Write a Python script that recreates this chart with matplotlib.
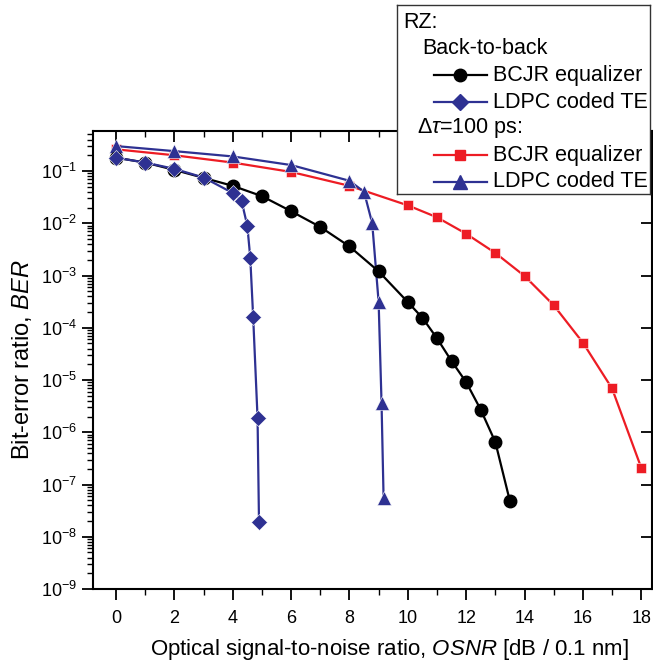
import matplotlib
matplotlib.use("Agg")
import matplotlib.pyplot as plt
from matplotlib.ticker import LogLocator, NullFormatter, MultipleLocator
from matplotlib.lines import Line2D

plt.rcParams['font.family'] = ['Liberation Sans', 'DejaVu Sans']
plt.rcParams['mathtext.fontset'] = 'custom'
plt.rcParams['mathtext.rm'] = 'Liberation Sans'
plt.rcParams['mathtext.it'] = 'Liberation Sans:italic'

# back-to-back, BCJR equalizer
b2b_bcjr_x = [0, 1, 2, 3, 4, 5, 6, 7, 8, 9, 10, 10.5, 11, 11.5, 12, 12.5, 13, 13.5]
b2b_bcjr_y = [0.18, 0.145, 0.105, 0.074, 0.052, 0.033, 0.017, 0.0085, 0.0036, 0.0012,
              3.1e-4, 1.55e-4, 6.3e-5, 2.3e-5, 9.1e-6, 2.7e-6, 6.5e-7, 4.8e-8]
# back-to-back, LDPC coded TE
b2b_ldpc_x = [0, 1, 2, 3, 4.0, 4.3, 4.5, 4.6, 4.7, 4.85, 4.9]
b2b_ldpc_y = [0.18, 0.145, 0.11, 0.075, 0.038, 0.027, 0.0089, 0.0022, 1.6e-4, 1.9e-6, 1.9e-8]
# dtau = 100 ps, BCJR equalizer
dgd_bcjr_x = [0, 2, 4, 6, 8, 10, 11, 12, 13, 14, 15, 16, 17, 18]
dgd_bcjr_y = [0.26, 0.20, 0.145, 0.096, 0.052, 0.022, 0.013, 0.0063, 0.0027, 9.8e-4,
              2.7e-4, 5.2e-5, 6.9e-6, 2.1e-7]
# dtau = 100 ps, LDPC coded TE
dgd_ldpc_x = [0, 2, 4, 6, 8, 8.5, 8.78, 9.0, 9.1, 9.17]
dgd_ldpc_y = [0.30, 0.24, 0.19, 0.13, 0.065, 0.040, 0.010, 3.1e-4, 3.6e-6, 5.5e-8]

BLACK = '#000000'
BLUE = '#2E3192'
RED = '#ED1C24'

W, H = 653, 667
fig = plt.figure(figsize=(W / 100, H / 100), dpi=100)
ax = fig.add_axes([93 / W, 1 - 589 / H, (652 - 93) / W, (589 - 131) / H])

ax.plot(dgd_bcjr_x, dgd_bcjr_y, '-s', color=RED, lw=1.6, ms=7, mec='white', mew=0.4, zorder=3)
ax.plot(dgd_ldpc_x, dgd_ldpc_y, '-^', color=BLUE, lw=1.6, ms=9.5, mec='white', mew=0.4, zorder=4)
ax.plot(b2b_bcjr_x, b2b_bcjr_y, '-o', color=BLACK, lw=1.6, ms=9, zorder=5)
ax.plot(b2b_ldpc_x, b2b_ldpc_y, '-D', color=BLUE, lw=1.6, ms=8.5, mec='white', mew=0.4, zorder=6)

ax.set_yscale('log')
ax.set_xlim(-0.79, 18.37)
ax.set_ylim(1e-9, 0.583)

ax.xaxis.set_major_locator(MultipleLocator(2))
ax.xaxis.set_minor_locator(MultipleLocator(1))
ax.yaxis.set_major_locator(LogLocator(base=10, numticks=20))
ax.yaxis.set_minor_locator(LogLocator(base=10, subs=range(2, 10), numticks=20))
ax.yaxis.set_minor_formatter(NullFormatter())

for s in ax.spines.values():
    s.set_linewidth(1.5)
ax.tick_params(which='major', direction='out', length=8, width=1.3, labelsize=13)
ax.tick_params(which='minor', direction='out', length=4.5, width=1.0)
ax.tick_params(axis='x', pad=7)

# inward ticks on top and right
top = ax.secondary_xaxis('top')
top.xaxis.set_major_locator(MultipleLocator(2))
top.xaxis.set_minor_locator(MultipleLocator(1))
top.tick_params(which='major', direction='in', length=8, width=1.3, labeltop=False)
top.tick_params(which='minor', direction='in', length=4.5, width=1.0)
top.spines['top'].set_visible(False)
right = ax.secondary_yaxis('right')
right.yaxis.set_major_locator(LogLocator(base=10, numticks=20))
right.yaxis.set_minor_locator(LogLocator(base=10, subs=[], numticks=20))
right.tick_params(which='major', direction='in', length=8, width=1.3, labelright=False)
right.spines['right'].set_visible(False)

ax.set_xlabel(r'Optical signal-to-noise ratio, $\mathit{OSNR}$ [dB / 0.1 nm]', fontsize=16, va='center')
ax.xaxis.set_label_coords(0.531, -0.133)
ax.set_ylabel(r'Bit-error ratio, $\mathit{BER}$', fontsize=17, labelpad=5)

# legend box, drawn in pixel units
lg = fig.add_axes([397 / W, 1 - 194 / H, (650 - 397) / W, (194 - 5) / H], zorder=10)
lg.set_xlim(397, 650)
lg.set_ylim(194, 5)
lg.set_xticks([])
lg.set_yticks([])
for s in lg.spines.values():
    s.set_linewidth(1.0)
    s.set_color('#333333')

fs = 15.5
lg.text(403, 22, 'RZ:', fontsize=fs, va='center', ha='left')
lg.text(422, 48, 'Back-to-back', fontsize=fs, va='center', ha='left')
lg.text(417, 128, r'$\Delta\mathit{\tau}$=100 ps:', fontsize=fs, va='center', ha='left')
entries = [
    (75, BLACK, 'o', 9, 'BCJR equalizer'),
    (102, BLUE, 'D', 8.5, 'LDPC coded TE'),
    (155, RED, 's', 7, 'BCJR equalizer'),
    (182, BLUE, '^', 9.5, 'LDPC coded TE'),
]
for yy, c, m, ms, lab in entries:
    lg.add_line(Line2D([434, 487], [yy, yy], color=c, lw=1.6))
    lg.add_line(Line2D([460], [yy], color=c, marker=m, ms=ms, mec=c))
    lg.text(493, yy, lab, fontsize=fs, va='center', ha='left')

fig.savefig('out.png', dpi=100)
